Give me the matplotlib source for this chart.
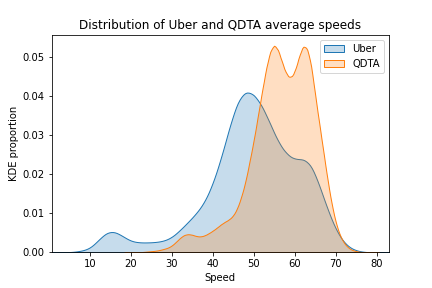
import numpy as np
import matplotlib
matplotlib.use("Agg")
import matplotlib.pyplot as plt
import seaborn as sns

# densidad (Uber cada 2 km/h, QDTA cada 1 km/h)
uber_speed = list(range(4, 80, 2))
uber_dens = [0.0000, 0.0001, 0.0004, 0.0010, 0.0031, 0.0052, 0.0054, 0.0041,
             0.0028, 0.0025, 0.0025, 0.0026, 0.0029, 0.0038, 0.0057, 0.0078,
             0.0100, 0.0128, 0.0175, 0.0240, 0.0318, 0.0387, 0.0414, 0.0405,
             0.0375, 0.0328, 0.0280, 0.0250, 0.0236, 0.0240, 0.0226, 0.0172,
             0.0110, 0.0058, 0.0024, 0.0008, 0.0002, 0.0000]

qdta_speed = list(range(22, 78))
qdta_dens = [0.0000, 0.0001, 0.0002, 0.0003, 0.0004, 0.0006, 0.0009, 0.0012,
             0.0018, 0.0028, 0.0039, 0.0047, 0.0049, 0.0047, 0.0043, 0.0042,
             0.0045, 0.0051, 0.0058, 0.0066, 0.0075, 0.0082, 0.0088, 0.0098,
             0.0118, 0.0150, 0.0190, 0.0245, 0.0300, 0.0365, 0.0430, 0.0492,
             0.0540, 0.0558, 0.0542, 0.0505, 0.0475, 0.0465, 0.0482, 0.0522,
             0.0555, 0.0550, 0.0505, 0.0420, 0.0345, 0.0270, 0.0195, 0.0130,
             0.0080, 0.0046, 0.0025, 0.0013, 0.0006, 0.0003, 0.0001, 0.0000]

def factor(x, w, ancho):
    # factor de bw para que el kernel tenga el ancho deseado
    sd = np.sqrt(np.cov(np.array(x, float), aweights=np.array(w) + 1e-9))
    return ancho / sd

fig = plt.figure(figsize=(6, 4), dpi=72)
ax = fig.add_subplot(111)
plt.subplots_adjust(left=0.12, right=0.9, top=0.878, bottom=0.124)

sns.kdeplot(x=uber_speed, weights=uber_dens, fill=True, label="Uber",
            bw_method=factor(uber_speed, uber_dens, 1.3), color="C0", ax=ax)
sns.kdeplot(x=qdta_speed, weights=qdta_dens, fill=True, label="QDTA",
            bw_method=factor(qdta_speed, qdta_dens, 0.6), color="C1", ax=ax)

ax.set_xlim(0.65, 83.0)
ax.set_ylim(0, 0.0557)
ax.set_title("Distribution of Uber and QDTA average speeds")
ax.set_xlabel("Speed")
ax.set_ylabel("KDE proportion")
ax.legend(loc="upper right")
plt.savefig("out.png", dpi=72)
